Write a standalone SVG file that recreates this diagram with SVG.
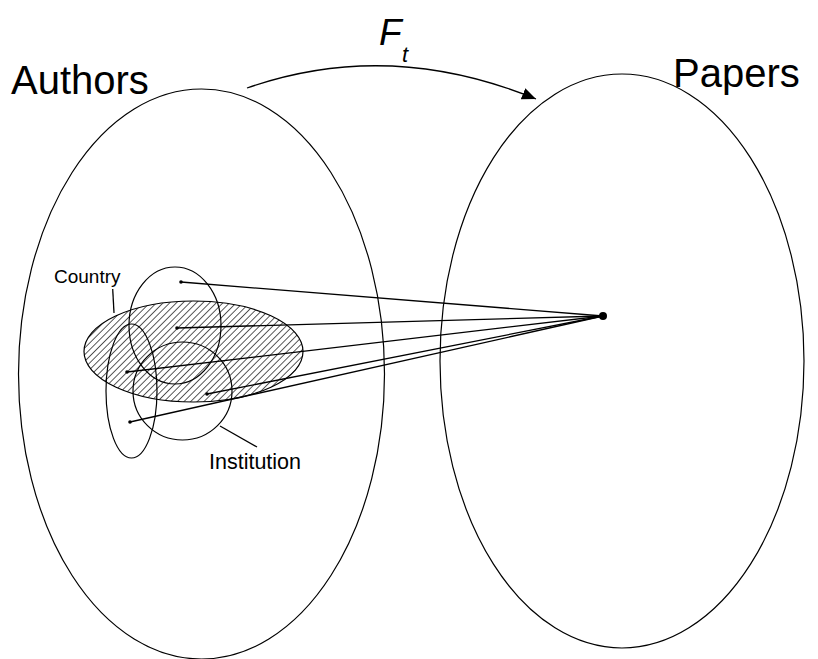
<svg xmlns="http://www.w3.org/2000/svg" width="818" height="659" viewBox="0 0 818 659">
<style>
.o{fill:none;stroke:#000;stroke-width:1.2}
.l{fill:none;stroke:#000;stroke-width:1.3}
.t{font-family:"Liberation Sans",Arial,sans-serif;fill:#000}
.d{fill:#000}
</style>
<defs>
<pattern id="hatch" patternUnits="userSpaceOnUse" width="4.7" height="4.7" patternTransform="rotate(45)">
<line x1="0" y1="-1" x2="0" y2="5.7" stroke="#000" stroke-width="1.3"/>
</pattern>
<marker id="arr" markerUnits="userSpaceOnUse" markerWidth="16" markerHeight="14" refX="14" refY="6" orient="auto">
<path d="M0,0 L14,6 L0,12 Z" fill="#000"/>
</marker>
</defs>
<rect width="818" height="659" fill="#fff"/>
<g id="authors">
<ellipse class="o" cx="201.5" cy="374" rx="183" ry="285"/>
<text class="t" x="11" y="94" font-size="40">Authors</text>
</g>
<g id="papers">
<ellipse class="o" cx="622" cy="361" rx="182" ry="287"/>
<text class="t" x="673" y="87" font-size="40">Papers</text>
</g>
<g id="country">
<ellipse cx="193.5" cy="351.5" rx="109.5" ry="50.5" fill="url(#hatch)" stroke="#000" stroke-width="1.2"/>
<text class="t" x="54" y="283" font-size="19">Country</text>
</g>
<g id="group-upper">
<ellipse class="o" cx="175" cy="325.5" rx="46" ry="58.5"/>
</g>
<g id="group-left">
<ellipse class="o" cx="131.5" cy="391" rx="25.5" ry="67"/>
</g>
<g id="institution">
<ellipse class="o" cx="182.5" cy="391" rx="49.5" ry="49"/>
<text class="t" x="209" y="469" font-size="21.5">Institution</text>
</g>
<g id="target">
<circle class="d" cx="603" cy="316" r="4"/>
</g>
<g id="points">
<circle class="d" cx="181" cy="282" r="1.8"/>
<circle class="d" cx="177" cy="328" r="1.8"/>
<circle class="d" cx="127" cy="372" r="1.8"/>
<circle class="d" cx="207" cy="394" r="1.8"/>
<circle class="d" cx="130" cy="422" r="1.8"/>
</g>
<g id="label-ft">
<text class="t" x="379" y="45" font-size="37" font-style="italic">F</text>
<text class="t" x="402" y="62" font-size="22" font-style="italic">t</text>
</g>
<g id="connectors">
<path class="l" d="M247,88 Q388.5,38.5 536,99" marker-end="url(#arr)"/>
<line class="l" x1="181" y1="282" x2="603" y2="316"/>
<line class="l" x1="177" y1="328" x2="603" y2="316"/>
<line class="l" x1="127" y1="372" x2="603" y2="316"/>
<line class="l" x1="207" y1="394" x2="603" y2="316"/>
<line class="l" x1="130" y1="422" x2="603" y2="316"/>
<line class="l" x1="112.7" y1="289" x2="114" y2="313"/>
<line class="l" x1="220" y1="426" x2="257" y2="447"/>
</g>
</svg>
